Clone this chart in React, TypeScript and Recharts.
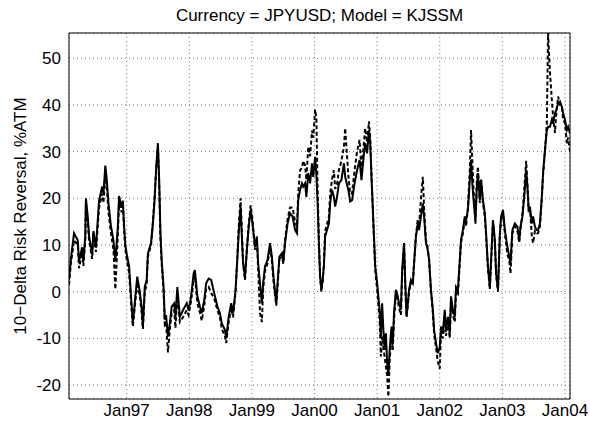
import { LineChart, Line, XAxis, YAxis, CartesianGrid } from 'recharts'

// decimal years, roughly weekly-ish samples
const dates = [
  1996.08, 1996.11, 1996.16, 1996.22, 1996.24, 1996.29, 1996.31, 1996.34, 1996.35, 1996.38, 1996.40, 1996.45, 1996.47, 1996.51, 1996.56, 1996.61, 1996.63, 1996.66, 1996.68, 1996.71, 1996.75, 1996.79, 1996.82, 1996.86, 1996.88, 1996.92, 1996.94, 1996.96, 1996.98,
  1997.00, 1997.04, 1997.07, 1997.10, 1997.14, 1997.17, 1997.21, 1997.24, 1997.26, 1997.29, 1997.32, 1997.34, 1997.39, 1997.42, 1997.45, 1997.47, 1997.50, 1997.52, 1997.54, 1997.56, 1997.59, 1997.61, 1997.63, 1997.66, 1997.69, 1997.72, 1997.76, 1997.78, 1997.81, 1997.85, 1997.90, 1997.96, 1997.99,
  1998.03, 1998.07, 1998.09, 1998.13, 1998.17, 1998.20, 1998.24, 1998.27, 1998.31, 1998.35, 1998.40, 1998.45, 1998.49, 1998.52, 1998.57, 1998.59, 1998.63, 1998.67, 1998.70, 1998.74, 1998.77, 1998.79, 1998.82, 1998.84, 1998.86, 1998.89, 1998.92, 1998.95, 1998.98,
  1999.01, 1999.05, 1999.08, 1999.10, 1999.13, 1999.16, 1999.18, 1999.21, 1999.25, 1999.29, 1999.32, 1999.35, 1999.39, 1999.41, 1999.44, 1999.48, 1999.50, 1999.53, 1999.57, 1999.61, 1999.65, 1999.69, 1999.72, 1999.74, 1999.77, 1999.80, 1999.82, 1999.85, 1999.87, 1999.90, 1999.93, 1999.96, 1999.98,
  2000.01, 2000.03, 2000.05, 2000.07, 2000.09, 2000.11, 2000.13, 2000.15, 2000.17, 2000.20, 2000.23, 2000.25, 2000.28, 2000.31, 2000.33, 2000.36, 2000.39, 2000.43, 2000.47, 2000.49, 2000.54, 2000.57, 2000.60, 2000.64, 2000.68, 2000.72, 2000.75, 2000.79, 2000.81, 2000.84, 2000.87, 2000.89, 2000.91, 2000.93, 2000.95, 2000.97,
  2001.00, 2001.04, 2001.06, 2001.08, 2001.10, 2001.12, 2001.14, 2001.16, 2001.18, 2001.20, 2001.23, 2001.25, 2001.27, 2001.30, 2001.33, 2001.35, 2001.38, 2001.40, 2001.43, 2001.45, 2001.47, 2001.49, 2001.51, 2001.54, 2001.57, 2001.59, 2001.62, 2001.65, 2001.67, 2001.70, 2001.73, 2001.75, 2001.78, 2001.80, 2001.83, 2001.86, 2001.89, 2001.91, 2001.94, 2001.97,
  2002.00, 2002.02, 2002.05, 2002.08, 2002.10, 2002.13, 2002.16, 2002.18, 2002.21, 2002.24, 2002.26, 2002.29, 2002.32, 2002.34, 2002.37, 2002.40, 2002.42, 2002.45, 2002.48, 2002.50, 2002.52, 2002.54, 2002.57, 2002.59, 2002.61, 2002.64, 2002.66, 2002.69, 2002.72, 2002.74, 2002.77, 2002.80, 2002.82, 2002.85, 2002.88, 2002.90, 2002.93, 2002.96, 2002.98,
  2003.01, 2003.04, 2003.08, 2003.11, 2003.13, 2003.16, 2003.20, 2003.24, 2003.27, 2003.29, 2003.32, 2003.35, 2003.38, 2003.40, 2003.42, 2003.44, 2003.47, 2003.49, 2003.52, 2003.55, 2003.57, 2003.60, 2003.63, 2003.65, 2003.68, 2003.71, 2003.73, 2003.76, 2003.79, 2003.81, 2003.84, 2003.86, 2003.89, 2003.92, 2003.95, 2003.97, 2004.00, 2004.03, 2004.05, 2004.08,
]

// solid line
const solid = [
  2.5, 7, 12.5, 11, 6.5, 9.5, 6.5, 12, 20, 16, 12, 8, 13, 9.5, 19.5, 22.5, 21, 27, 24.5, 19, 14, 11, 6.5, 14, 20.5, 18, 19.5, 14, 10,
  8.2, 5.4, -1, -6.8, -1, 3.2, 0, -3.2, -7.5, 1, 2.5, 8.2, 10.4, 14.6, 20.3, 26, 31.8, 23.9, 12.5, 6.8, 1, -6, -5, -9.6, -6.8, -3.2, -2.5, -5.4, 1, -5.4, -4, -2.5, -4,
  -1, 3.9, 4.6, -1, -3.2, -4.6, -1.8, 1.8, 2.8, 2.5, -0.4, -3.2, -4.6, -6.8, -8.2, -10, -5.4, -2.5, -4.6, 0.4, 7.5, 12.5, 18.2, 11.8, 6.1, 3.2, 8.9, 13.9, 17.5,
  14.6, 9.6, 11.8, 6.1, 1.8, -2.5, 1.8, 5.4, 6.8, 10.4, 7.5, 2.5, -2.5, 1.8, 7.5, 8.2, 6.1, 10.4, 14.6, 16.8, 16.1, 13.2, 12.5, 19.6, 21.8, 23.2, 22.5, 23.2, 20.3, 25.4, 23.2, 27.5, 24.6,
  28.9, 25, 18.9, 10.4, 3.2, 0.4, 2.5, 5.4, 11.8, 13.2, 14.6, 18.9, 21.8, 20.3, 18.2, 20.3, 23.2, 23.9, 27.5, 24.6, 21.8, 19.3, 19.6, 23.2, 26, 28.2, 23.9, 29.6, 31.8, 29.6, 34.6, 31.8, 24.6, 18.2, 11.8, 5.4,
  1.8, -3.9, -9.6, -2.5, -8.2, -12.5, -8.9, -15.3, -18, -12.5, -7.5, -11, -4.6, 0.4, -1, -2.5, -3.9, 4.6, 10.4, 1.8, -5.4, -2.5, 0.4, 2.5, 1.8, 6.1, 11.8, 14.6, 13.2, 16.1, 18.9, 16.1, 10.4, 9.6, 6.8, 0.4, -3.9, -8.2, -11, -13.2,
  -12, -7.5, -8.9, -3.9, -8.2, -5.4, -8.9, -1, -3.9, -5.4, 1, 0.4, 6.8, 11.1, 13.2, 16.1, 15.3, 17.5, 23.9, 28.2, 23.2, 19.6, 15.3, 21.8, 25.4, 19.6, 23.9, 19.6, 16.8, 12.5, 5.4, 1, 6.8, 15.3, 11.1, 3.9, 0.4, 12.5, 16.1,
  17.5, 13.2, 9.6, 7.5, 6.1, 13.2, 14.6, 13.9, 11.1, 13.9, 16.1, 20.3, 26, 22.5, 17.5, 18.2, 14.6, 16.1, 13.9, 13.2, 13.2, 14.6, 20.3, 25.4, 30.3, 34.6, 35.3, 35.3, 36.8, 36, 38.2, 38.9, 40.3, 40.7, 39.6, 38.2, 36.8, 34.6, 35.3, 33.9,
]

// dashed line
const dashed = [
  1.5, 6, 11, 10, 5, 8.5, 5.5, 11, 19, 15, 11, 7, 12.5, 8.5, 18, 21, 19, 25, 23, 17, 12.5, 9, 0.5, 12, 19.5, 17, 19, 13, 9,
  7, 4, -2, -7.5, -2, 2, -1, -4.5, -8, 0, 1.5, 7.5, 10, 15, 21, 26, 31, 23, 11.5, 6, 0, -7, -6.5, -13, -8, -4.5, -4, -7.8, -0.5, -6.5, -5.5, -4, -5,
  -2, 2.5, 3.5, -2.5, -4.5, -6.2, -3, 0.5, 1, -0.3, -1.5, -4, -5.5, -8, -9.5, -11, -6.5, -3.5, -5.5, 0, 8, 14, 20, 13, 6, 2.5, 9, 14.5, 18.5,
  15.5, 9, 11, 5, -4.6, -6.5, 0.5, 4.5, 6, 9.5, 6.5, 1.5, -3, 1, 7, 8, 6, 11, 15.5, 18, 18, 15, 14, 21, 26, 26.5, 28, 27, 24, 31, 29, 34.5, 33,
  39, 37, 22, 11, 3, 0, 2, 6, 13, 14.5, 16, 21, 24, 26, 22, 23, 26, 28, 31, 35, 25, 21, 21, 26, 30, 32.5, 26, 32, 35, 32, 36.5, 33, 25, 18, 11, 4.5,
  0.5, -6, -13.9, -9.6, -12, -14, -16, -18, -22.5, -15, -9, -12.5, -6, -0.5, -2, -3.5, -5, 4, 10, 1, -5.4, -3, 0, 2, 1.5, 6, 12, 15.5, 14, 20, 24.6, 18, 11, 10, 7, 0, -4.5, -9, -12, -15,
  -16.5, -9, -10, -5, -9.5, -6.5, -10, -2, -5, -6.5, 0, -0.5, 6, 10.5, 12.5, 15.5, 14, 18, 26, 34.6, 28, 21.8, 14.5, 23, 26.8, 19, 24, 19, 16, 12, 5, 0.5, 6, 15, 10.5, 3.5, 0, 12, 15.5,
  17, 12.5, 8, 6.8, 3.9, 12.5, 14, 13, 10.5, 13.5, 16.5, 22, 28, 23, 17, 18, 12, 10.4, 13, 12.5, 12.5, 14, 20, 25, 30, 36, 55.4, 47, 41, 37.5, 34, 38, 41.8, 40, 39.6, 37, 36, 31.8, 33, 30,
]

const yearTicks = [1997, 1998, 1999, 2000, 2001, 2002, 2003, 2004]
const valueTicks = [-20, -10, 0, 10, 20, 30, 40, 50]

const data = dates.map((t, i) => ({ t, solid: solid[i], dashed: dashed[i] }))

const font = '"Liberation Sans", Arial, Helvetica, sans-serif'
const xDomain = [1996.08, 2004.08]
const yDomain = [-23, 55.4]

const yearLabel = (t: number) => 'Jan' + String(t).slice(2)

export default function App() {
  return (
    <div style={{ position: 'absolute', left: 0, top: 0, width: 590, height: 422, background: '#fff', fontFamily: font }}>
      <LineChart width={590} height={422} data={data} margin={{ top: 33, right: 20, bottom: 0, left: 0 }}>
        <CartesianGrid xAxisId="b" yAxisId="l" stroke="#7a7a7a" strokeDasharray="1 3" />
        <XAxis
          xAxisId="b"
          dataKey="t"
          type="number"
          domain={xDomain}
          ticks={yearTicks}
          tickFormatter={yearLabel}
          allowDataOverflow
          height={23}
          tickSize={3}
          tickMargin={2}
          tickLine={false}
          axisLine={{ stroke: '#000' }}
          tick={{ fill: '#000', fontSize: 17, fontFamily: font }}
        />
        <XAxis xAxisId="bm" dataKey="t" type="number" domain={xDomain} ticks={yearTicks} allowDataOverflow mirror tick={false} tickSize={5} tickLine={{ stroke: '#000' }} axisLine={false} />
        <XAxis xAxisId="t" orientation="top" dataKey="t" type="number" domain={xDomain} ticks={yearTicks} allowDataOverflow mirror tick={false} tickSize={5} tickLine={{ stroke: '#000' }} axisLine={{ stroke: '#000' }} />
        <YAxis
          yAxisId="l"
          type="number"
          domain={yDomain}
          ticks={valueTicks}
          allowDataOverflow
          width={69}
          tickLine={false}
          axisLine={{ stroke: '#000' }}
          tick={{ fill: '#000', fontSize: 17, fontFamily: font }}
        />
        <YAxis yAxisId="lm" type="number" domain={yDomain} ticks={valueTicks} allowDataOverflow mirror tick={false} tickSize={5} tickLine={{ stroke: '#000' }} axisLine={false} />
        <YAxis yAxisId="r" orientation="right" type="number" domain={yDomain} ticks={valueTicks} allowDataOverflow mirror tick={false} tickSize={5} tickLine={{ stroke: '#000' }} axisLine={{ stroke: '#000' }} />
        <Line xAxisId="b" yAxisId="l" type="linear" dataKey="solid" stroke="#000" strokeWidth={2} dot={false} isAnimationActive={false} />
        <Line xAxisId="b" yAxisId="l" type="linear" dataKey="dashed" stroke="#000" strokeWidth={2} strokeDasharray="4 2.5" dot={false} isAnimationActive={false} />
      </LineChart>
      <div style={{ position: 'absolute', left: 69, width: 501, top: 7, textAlign: 'center', fontSize: 17, lineHeight: '17px', color: '#000' }}>
        Currency = JPYUSD; Model = KJSSM
      </div>
      <div style={{ position: 'absolute', left: 21 - 160, top: 216 - 9, width: 320, height: 18, lineHeight: '18px', textAlign: 'center', fontSize: 17, color: '#000', transform: 'rotate(-90deg)' }}>
        10−Delta Risk Reversal, %ATM
      </div>
    </div>
  )
}
